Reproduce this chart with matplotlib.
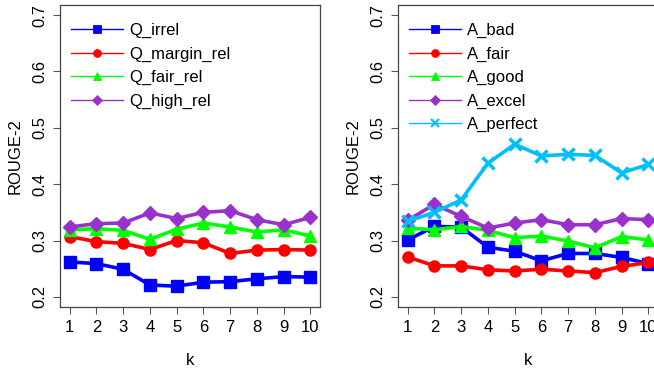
import matplotlib
matplotlib.use("Agg")
import matplotlib.pyplot as plt
from matplotlib.lines import Line2D

plt.rcParams['font.family'] = ['Liberation Sans', 'DejaVu Sans']

k = list(range(1, 11))

q_labels = ["Q_irrel", "Q_margin_rel", "Q_fair_rel", "Q_high_rel"]
q_irrel = [0.262, 0.259, 0.249, 0.221, 0.219, 0.226, 0.227, 0.232, 0.236, 0.235]
q_margin = [0.307, 0.298, 0.295, 0.284, 0.300, 0.296, 0.277, 0.283, 0.284, 0.283]
q_fair = [0.319, 0.321, 0.318, 0.302, 0.320, 0.331, 0.324, 0.315, 0.319, 0.308]
q_high = [0.324, 0.330, 0.331, 0.349, 0.339, 0.350, 0.353, 0.337, 0.328, 0.341]

a_labels = ["A_bad", "A_fair", "A_good", "A_excel", "A_perfect"]
a_bad = [0.301, 0.325, 0.324, 0.288, 0.281, 0.264, 0.277, 0.277, 0.270, 0.259]
a_fair = [0.271, 0.255, 0.255, 0.248, 0.246, 0.249, 0.246, 0.243, 0.254, 0.261]
a_good = [0.322, 0.319, 0.325, 0.318, 0.305, 0.308, 0.299, 0.287, 0.307, 0.301]
a_excel = [0.336, 0.364, 0.343, 0.322, 0.331, 0.337, 0.328, 0.328, 0.339, 0.337]
a_perfect = [0.334, 0.350, 0.372, 0.437, 0.471, 0.450, 0.453, 0.451, 0.420, 0.435]

y_ticks = [0.2, 0.3, 0.4, 0.5, 0.6, 0.7]

BLUE, RED, GREEN, PURPLE, CYAN = '#0000FF', '#FF0000', '#00FF00', '#9932CC', '#00BFFF'
styles = [
    dict(color=BLUE, marker='s', ms=8),
    dict(color=RED, marker='o', ms=8),
    dict(color=GREEN, marker='^', ms=9),
    dict(color=PURPLE, marker='D', ms=7),
    dict(color=CYAN, marker='x', ms=9, mew=2.5),
]

W, H = 654, 371
fig = plt.figure(figsize=(W / 100, H / 100), dpi=100)
ax1 = fig.add_axes([60 / W, 1 - 307 / H, 260 / W, 302 / H])
ax2 = fig.add_axes([398 / W, 1 - 307 / H, 260 / W, 302 / H])


def style_axes(ax):
    ax.set_xlim(0.64, 10.36)
    ax.set_ylim(0.182, 0.718)
    ax.set_xticks(k)
    ax.set_yticks(y_ticks)
    ax.set_yticklabels([f"{v:.1f}" for v in y_ticks], rotation=90, va='center')
    ax.tick_params(length=5, width=0.8, color='#555555', labelsize=12, pad=4)
    for s in ax.spines.values():
        s.set_color('#444444')
        s.set_linewidth(0.9)
    ax.set_xlabel('k', fontsize=12, labelpad=13)
    ax.set_ylabel('ROUGE-2', fontsize=12, labelpad=7)


def draw(ax, series, labels):
    handles = []
    for vals, st, lab in zip(series, styles, labels):
        ax.plot(k, vals, color=st['color'], marker=st['marker'], ms=st['ms'],
                mew=st.get('mew', 1), lw=2.6, zorder=3)
        handles.append(Line2D([], [], color=st['color'], marker=st['marker'],
                              ms=st['ms'] * 0.7, mew=st.get('mew', 1) * 0.6, lw=1))
    ax.legend(handles, labels, loc='upper left', bbox_to_anchor=(0.042, 0.94),
              frameon=False, fontsize=12, handlelength=3.1, handletextpad=0.4,
              labelspacing=0.5, borderpad=0, borderaxespad=0)


draw(ax1, [q_irrel, q_margin, q_fair, q_high], q_labels)
draw(ax2, [a_bad, a_fair, a_good, a_excel, a_perfect], a_labels)
style_axes(ax1)
style_axes(ax2)

fig.savefig('out.png', dpi=100)
